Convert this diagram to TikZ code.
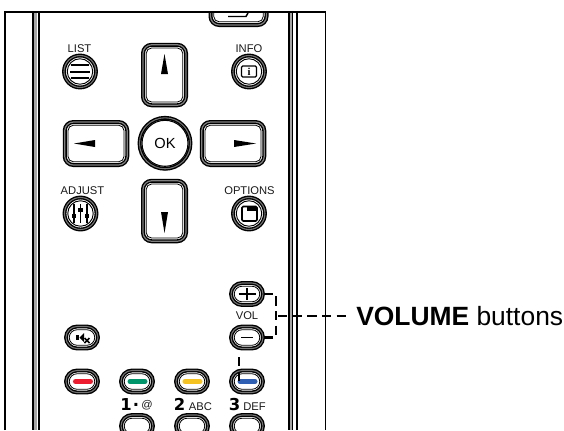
\documentclass[tikz,border=0pt]{standalone}
\usepackage{fontspec}
\setmainfont{Liberation Sans}
\newfontfamily\digitfont{DejaVu Sans}
\usetikzlibrary{shapes.misc}
\definecolor{btnred}{HTML}{ED1C2E}
\definecolor{btngreen}{HTML}{00966C}
\definecolor{btnyellow}{HTML}{F5C423}
\definecolor{btnblue}{HTML}{2F5FB3}
\tikzset{
 x=0.75pt,y=-0.75pt,
 frameline/.style={draw=black,line width=1.1pt},
 ringbtn/.style={circle,draw=black,line width=1.05pt,double=black!55,double distance=0.8pt,fill=white,inner sep=0pt,minimum size=#1*0.75pt},
 inring/.style={circle,draw=black,line width=0.7pt,inner sep=0pt,minimum size=#1*0.75pt},
 keybtn/.style={rectangle,rounded corners=6.5pt,draw=black,line width=1.05pt,double=black!50,double distance=0.9pt,fill=white,inner sep=0pt},
 inkey/.style={rectangle,rounded corners=4pt,draw=black,line width=0.6pt,inner sep=0pt},
 pillbtn/.style={rounded rectangle,draw=black,line width=1.05pt,double=black!55,double distance=0.8pt,fill=white,inner sep=0pt,minimum width=32*0.75pt,minimum height=22*0.75pt},
 inpill/.style={rounded rectangle,draw=black,line width=0.6pt,inner sep=0pt,minimum width=25.5*0.75pt,minimum height=15.5*0.75pt},
 smalllabel/.style={font=\fontsize{8.4}{10}\selectfont,inner sep=0pt,text=black!90},
 digit/.style={inner sep=0pt,font=\digitfont\bfseries\fontsize{12.3}{13}\selectfont},
 voldash/.style={draw=black,line width=1.6pt,dash pattern=on 7pt off 4pt},
 bar/.style={line cap=round,line width=3.75pt},
}
\newcommand{\mkpill}[3]{\node[pillbtn] (#1) at (#2,#3) {}; \node[inpill] (#1in) at (#2,#3) {};}
\newcommand{\mkring}[3]{\node[ringbtn=32] (#1) at (#2,#3) {}; \node[inring=25.5] (#1in) at (#2,#3) {};}
\newcommand{\mkkey}[5]{\node[keybtn,minimum width=#4*0.75pt,minimum height=#5*0.75pt] (#1) at (#2,#3) {};
 \node[inkey,minimum width=(#4-6.5)*0.75pt,minimum height=(#5-6.5)*0.75pt] (#1in) at (#2,#3) {};}
\begin{document}
\begin{tikzpicture}
\useasboundingbox (0,0) rectangle (564,430);
% body
\draw[line width=2.4pt,draw=black!35] (35.5,12) -- (35.5,430);
\draw[line width=0.8pt,draw=black] (33,12) -- (33,430);
\draw[line width=1.5pt,draw=black] (39,12) -- (39,430);
\draw[line width=2pt,draw=black!35] (290.7,12) -- (290.7,430);
\draw[line width=0.9pt,draw=black] (289,12) -- (289,430) (292.6,12) -- (292.6,430) (297,12) -- (297,430);
\draw[frameline] (5,430) -- (5,12) -- (325.5,12) -- (325.5,430);
% top partial key
\begin{scope}
\clip (200,13) rectangle (280,40);
\mkkey{topkey}{238.5}{3}{56}{44}
\draw[line width=1.1pt] (228,16.5) -- (246,16.5) -- (248,13);
\end{scope}
% circular buttons
\mkring{list}{80}{71.5}
\draw[line width=1.5pt] (71,65) -- (89,65) (70,71.5) -- (90,71.5) (71,78) -- (89,78);
\mkring{info}{249}{71.5}
\draw[line width=0.9pt,rounded corners=1pt] (241.5,66) rectangle (256.5,77);
\node[inner sep=0pt,font=\fontspec{Liberation Serif}\bfseries\fontsize{8}{8}\selectfont] (infoi) at (249,71.5) {i};
\mkring{adjust}{80.5}{213.5}
\foreach \xx/\yy in {74/216,80.5/210,87/216}{
 \draw[line width=1.4pt] (\xx,204) -- (\xx,223);
 \fill (\xx-2.4,\yy-1.8) rectangle (\xx+2.4,\yy+1.8);
}
\mkring{options}{249}{213.5}
\draw[line width=1.2pt,rounded corners=1pt] (242,206.5) rectangle (257,221);
\fill (247,206.5) rectangle (257,211);
\node[ringbtn=51] (ok) at (165,143.3) {};
\node[inring=46,line width=0.8pt] (okin) at (165,143.3) {};
\node[inner sep=0pt,font=\fontsize{11}{12}\selectfont] (oktext) at (165,143.5) {OK};
% arrow keys
\mkkey{up}{164.5}{75}{43}{60.5}
\mkkey{down}{164.5}{211}{43}{60.5}
\mkkey{left}{96}{143.5}{62.5}{43}
\mkkey{right}{233}{143.5}{62.5}{43}
\fill (161,74) -- (164.5,54) -- (168,74) -- cycle;
\fill (161,212) -- (164.5,233) -- (168,212) -- cycle;
\fill (74,143.5) -- (95,140) -- (95,147) -- cycle;
\fill (256,143.5) -- (234,140) -- (234,147) -- cycle;
% labels
\node[smalllabel] (tlist) at (79.5,48.5) {LIST};
\node[smalllabel] (tinfo) at (249,48.5) {INFO};
\node[smalllabel] (tadjust) at (82.5,190.5) {ADJUST};
\node[smalllabel] (toptions) at (249.5,190.5) {OPTIONS};
\node[smalllabel] (tvol) at (247,316) {VOL};
% pills
\mkpill{plus}{247}{294}
\mkpill{minus}{247}{337.5}
\mkpill{mute}{82}{337.5}
\mkpill{red}{82}{381.5}
\mkpill{green}{137}{381.5}
\mkpill{yellow}{192}{381.5}
\mkpill{blue}{247}{381.5}
\draw[line width=1pt] (238.5,294) -- (255.5,294) (247,288) -- (247,300);
\draw[line width=1.1pt] (241,337.5) -- (253,337.5);
\fill (76,335) rectangle (78.5,340);
\fill (79.5,337.5) -- (84,333) -- (84,342) -- cycle;
\draw[line width=1.2pt] (84.5,338) -- (89.5,343) (89.5,338) -- (84.5,343);
\draw[bar,draw=btnred] (75.5,381.5) -- (90.5,381.5);
\draw[bar,draw=btngreen] (130,381.5) -- (145,381.5);
\draw[bar,draw=btnyellow] (185,381.5) -- (200,381.5);
\draw[bar,draw=btnblue] (240,381.5) -- (255,381.5);
% numbers
\node[digit] (n1) at (126,404.5) {1};
\node[digit] (n1d) at (136,404.5) {.};
\node[smalllabel] (nat) at (147,405.5) {@};
\node[digit] (n2) at (179.5,404.5) {2};
\node[smalllabel] (nabc) at (200.5,406.5) {ABC};
\node[digit] (n3) at (234.5,404.5) {3};
\node[smalllabel] (ndef) at (254.5,406.5) {DEF};
% bottom partial keys
\begin{scope}
\clip (110,410) rectangle (280,430);
\mkpill{ka}{137}{426}
\mkpill{kb}{192}{426}
\mkpill{kc}{247}{426}
\end{scope}
% dashed leaders
\coordinate (bend) at (276,316);
\draw[voldash] (plus.east) -- (276,294) -- (276,337.5) -- (minus.east);
\node[inner sep=0pt,anchor=west,font=\fontsize{19.8}{22}\selectfont] (vol) at (356,316) {\textbf{VOLUME} buttons};
\draw[voldash,shorten >=7.5pt] (bend) ++(2,0) -- (vol.west);
\draw[voldash] (239,357) -- (239,381);
\end{tikzpicture}
\end{document}
